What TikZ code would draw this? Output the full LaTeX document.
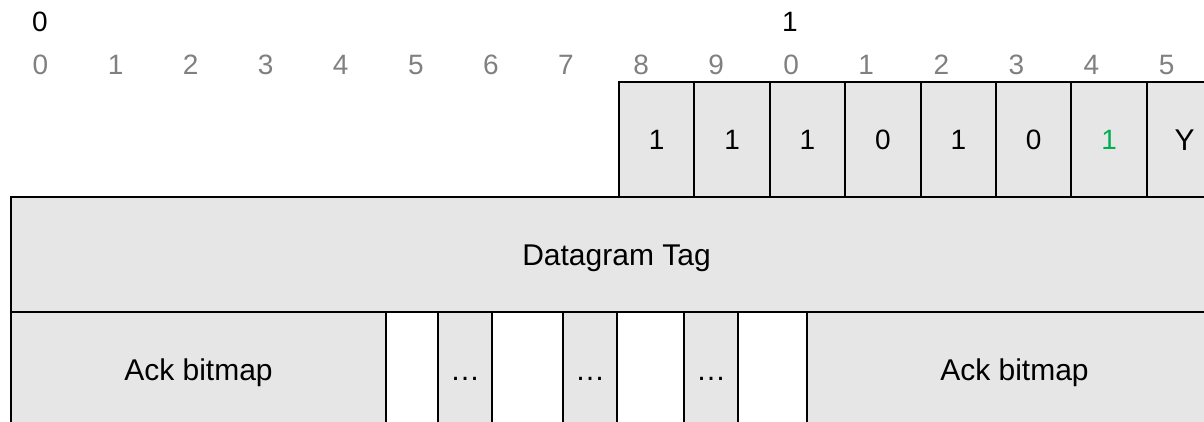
\documentclass[tikz,border=0pt]{standalone}
\usepackage{fontspec}
\setmainfont{Liberation Sans}
\definecolor{cellgray}{HTML}{E6E6E6}
\definecolor{rulergray}{HTML}{808080}
\definecolor{bitgreen}{HTML}{00B050}
\begin{document}
\begin{tikzpicture}[x=1pt,y=-1pt,
  cell/.style={draw=black, line width=2pt, fill=cellgray, inner sep=0pt,
    text height=21.5pt, text depth=0pt, minimum height=115pt,
    font=\fontsize{30}{35}\selectfont},
  bitcell/.style={cell, minimum width=75.4pt, text height=20pt, font=\fontsize{28}{33}\selectfont},
  blank/.style={cell, fill=white},
  rulnum/.style={inner sep=0pt, text=rulergray, text height=20pt, text depth=0pt, font=\fontsize{28}{32}\selectfont},
  octnum/.style={rulnum, text=black}]
\useasboundingbox (0,0) rectangle (1204,422);
\clip (0,0) rectangle (1204,422);
% ruler
\node[octnum] (o0) at (40,22) {0};
\node[octnum] (o1) at (790,22) {1};
\foreach \k/\d in {0/0,1/1,2/2,3/3,4/4,5/5,6/6,7/7,8/8,9/9,10/0,11/1,12/2,13/3,14/4,15/5}{
  \node[rulnum] (r\k) at ({40.5+75.07*\k},65) {\d};
}
% bit cells
\node[bitcell] (b8)  at (656.7,139.5) {1};
\node[bitcell] (b9)  at (732.1,139.5) {1};
\node[bitcell] (b10) at (807.5,139.5) {1};
\node[bitcell] (b11) at (882.9,139.5) {0};
\node[bitcell] (b12) at (958.3,139.5) {1};
\node[bitcell] (b13) at (1033.7,139.5) {0};
\node[bitcell, text=bitgreen] (b14) at (1109.1,139.5) {1};
\node[bitcell, text height=21.5pt, font=\fontsize{30}{35}\selectfont] (b15) at (1184.5,139.5) {Y};
% datagram tag
\node[cell, minimum width=1211pt] (tag) at (616.5,254.8) {Datagram Tag};
% bottom row
\node[cell, minimum width=375pt] (ackL) at (198.5,369.8) {Ack bitmap};
\node[blank, minimum width=52pt] (w1) at (412,369.8) {};
\node[cell, minimum width=54pt] (d1) at (465,369.8) {…};
\node[blank, minimum width=71pt] (w2) at (527.5,369.8) {};
\node[cell, minimum width=54pt] (d2) at (590,369.8) {…};
\node[blank, minimum width=67pt] (w3) at (650.5,369.8) {};
\node[cell, minimum width=54pt] (d3) at (711,369.8) {…};
\node[blank, minimum width=69pt] (w4) at (772.5,369.8) {};
\node[cell, minimum width=415pt] (ackR) at (1014.5,369.8) {Ack bitmap};
\end{tikzpicture}
\end{document}
